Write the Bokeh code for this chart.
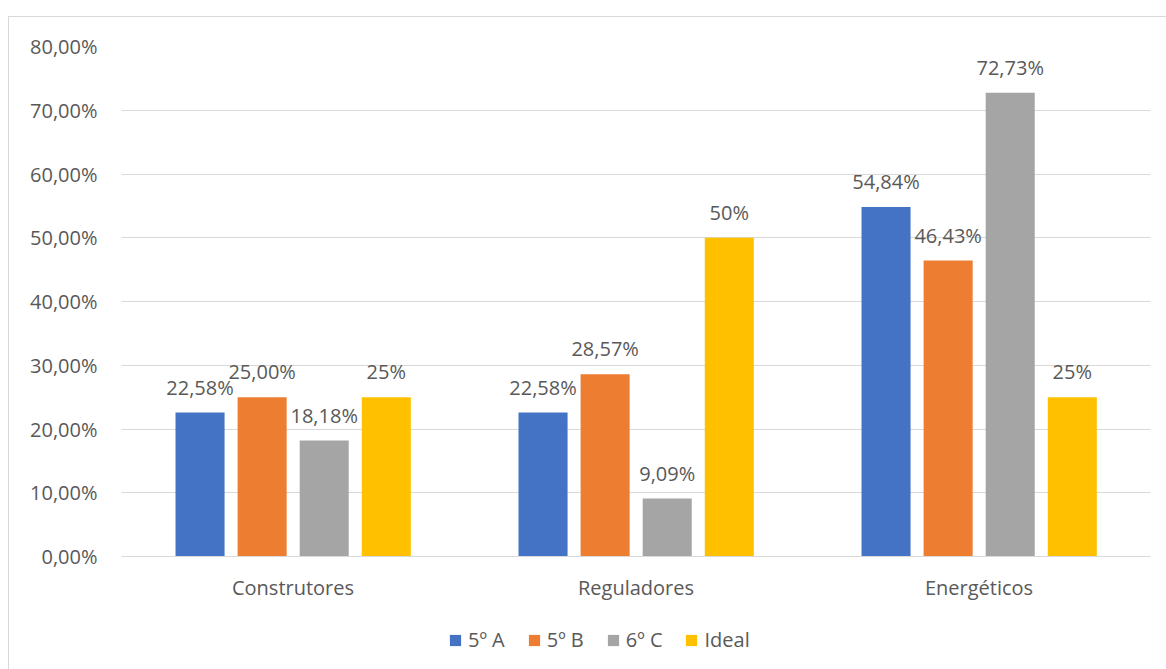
from bokeh.plotting import figure
from bokeh.layouts import column
from bokeh.models import Range1d, FixedTicker, Legend, LegendItem, ColumnDataSource
from bokeh.embed import file_html
from bokeh.resources import INLINE
from bokeh.core.properties import value

categories = ["Construtores", "Reguladores", "Energéticos"]
series = ["5º A", "5º B", "6º C", "Ideal"]
vals_5a = [0.2258, 0.2258, 0.5484]
vals_5b = [0.25, 0.2857, 0.4643]
vals_6c = [0.1818, 0.0909, 0.7273]
vals_ideal = [0.25, 0.50, 0.25]
labels_5a = ["22,58%", "22,58%", "54,84%"]
labels_5b = ["25,00%", "28,57%", "46,43%"]
labels_6c = ["18,18%", "9,09%", "72,73%"]
labels_ideal = ["25%", "50%", "25%"]
y_ticks = [0.0, 0.1, 0.2, 0.3, 0.4, 0.5, 0.6, 0.7, 0.8]
y_tick_labels = ["0,00%", "10,00%", "20,00%", "30,00%", "40,00%", "50,00%", "60,00%", "70,00%", "80,00%"]

colors = ["#4472C4", "#ED7D31", "#A5A5A5", "#FFC000"]
offsets = [-0.271, -0.090, 0.091, 0.272]
bar_w = 0.143
FONT = "Open Sans"
TXT = "#595959"
FS = "20px"

p = figure(width=1158, height=600, output_backend="svg", toolbar_location=None,
           x_range=Range1d(0, 3), y_range=Range1d(0, 0.8),
           min_border_left=112, min_border_right=17, min_border_top=29, min_border_bottom=61)
p.outline_line_color = None
p.background_fill_color = "white"
p.border_fill_color = "white"

p2 = figure(width=1158, height=53, output_backend="svg", toolbar_location=None,
            x_range=Range1d(0, 1), y_range=Range1d(0, 1), x_axis_type=None, y_axis_type=None,
            min_border_left=0, min_border_right=0, min_border_top=0, min_border_bottom=0)
p2.outline_line_color = None
p2.xgrid.grid_line_color = None
p2.ygrid.grid_line_color = None
p2.border_fill_color = "white"

all_vals = [vals_5a, vals_5b, vals_6c, vals_ideal]
all_labels = [labels_5a, labels_5b, labels_6c, labels_ideal]
items = []
for i, (name, vals, labs) in enumerate(zip(series, all_vals, all_labels)):
    xs = [k + 0.5 + offsets[i] for k in range(len(categories))]
    src = ColumnDataSource(dict(x=xs, top=vals, lab=labs))
    p.vbar(x="x", top="top", width=bar_w, source=src, fill_color=colors[i], line_color=None)
    p.text(x="x", y="top", text="lab", source=src, text_align="center", text_baseline="bottom",
           y_offset=-12, text_font=value(FONT), text_font_size=FS, text_color=TXT)
    # legend swatch renderer placed outside the visible range of the legend strip
    swatch = p2.vbar(x=[-5.0], top=[-5.0], width=0.1, fill_color=colors[i], line_color=None)
    items.append(LegendItem(label=name, renderers=[swatch]))

p.xaxis.ticker = FixedTicker(ticks=[0.5, 1.5, 2.5])
p.xaxis.major_label_overrides = {0.5: categories[0], 1.5: categories[1], 2.5: categories[2]}
p.yaxis.ticker = FixedTicker(ticks=y_ticks)
p.yaxis.major_label_overrides = {t: l for t, l in zip(y_ticks, y_tick_labels)}

for ax in (p.xaxis, p.yaxis):
    ax.major_tick_line_color = None
    ax.minor_tick_line_color = None
    ax.major_label_text_font = FONT
    ax.major_label_text_font_size = FS
    ax.major_label_text_color = TXT
p.yaxis.axis_line_color = None
p.xaxis.axis_line_color = "#d9d9d9"
p.yaxis.major_label_standoff = 18
p.xaxis.major_label_standoff = 11

p.xgrid.grid_line_color = None
p.ygrid.grid_line_color = "#d9d9d9"
p.ygrid.ticker = FixedTicker(ticks=y_ticks)

legend = Legend(items=items, orientation="horizontal", location=(327, 17),
                label_text_font=FONT, label_text_font_size=FS, label_text_color=TXT,
                glyph_width=14, glyph_height=14, spacing=22, label_standoff=6,
                border_line_color=None, background_fill_alpha=0, margin=0, padding=4,
                label_height=20)
p2.add_layout(legend, "center")

layout = column(p, p2, spacing=0,
                styles={"margin-left": "8px", "margin-top": "16px",
                        "border-left": "1px solid #d9d9d9", "border-top": "1px solid #d9d9d9"})

open("out.html", "w").write(file_html(layout, INLINE))
